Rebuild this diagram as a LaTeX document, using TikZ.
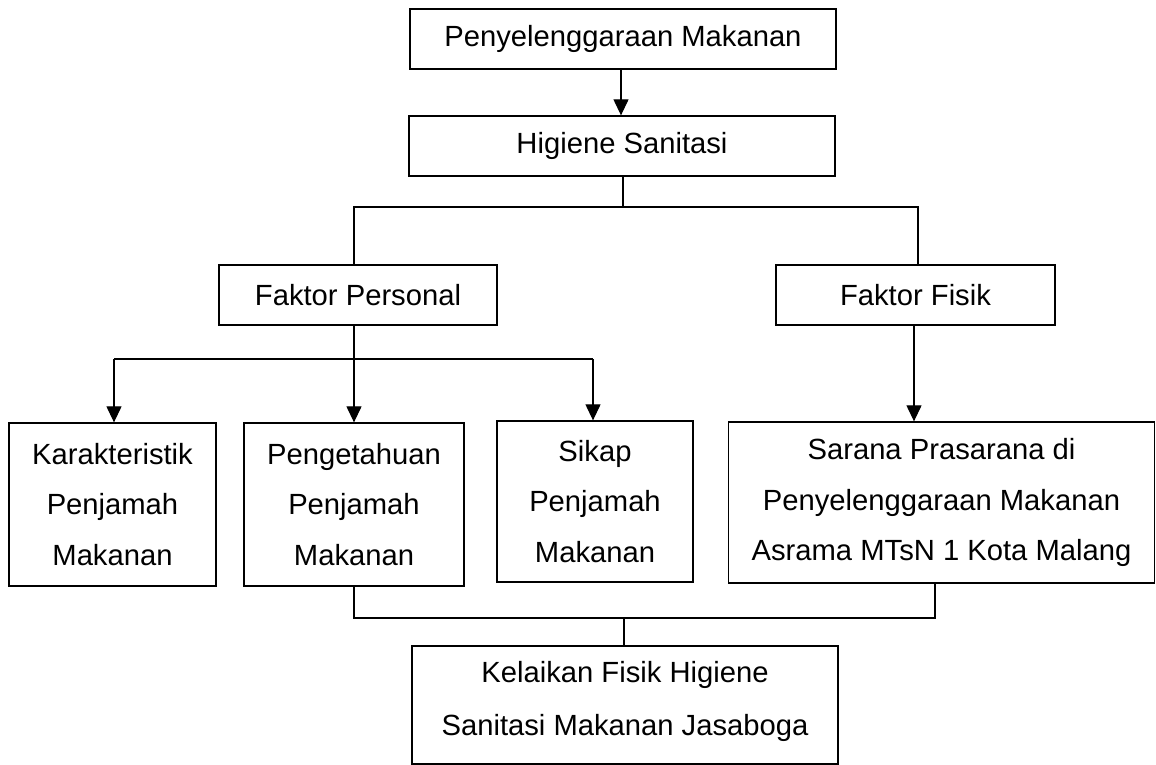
\documentclass[tikz,border=0pt]{standalone}
\usepackage{fontspec}
\setmainfont{Liberation Sans}
\usetikzlibrary{arrows.meta}
\begin{document}
\begin{tikzpicture}[x=1pt,y=-1pt,
  box/.style={draw, line width=1.3pt, inner sep=0pt, align=center,
    font=\fontsize{29.2}{50.5}\selectfont},
  txt/.style={inner sep=0pt, align=center, font=\fontsize{29.2}{53}\selectfont},
  ln/.style={line width=1.2pt},
  arr/.style={line width=1.2pt, -{Triangle[length=16pt,width=15pt]}}]
\useasboundingbox (0,0) rectangle (1156,765);
% boxes
\node[box, minimum width=426pt, minimum height=60pt] (top) at (623,39) {Penyelenggaraan Makanan};
\node[box, minimum width=426pt, minimum height=60pt] (hig) at (622,146) {Higiene Sanitasi};
\node[box, minimum width=278pt, minimum height=60pt] (fp) at (358,295) {Faktor Personal};
\node[box, minimum width=279pt, minimum height=60pt] (ff) at (915.5,295) {Faktor Fisik};
\node[box, minimum width=207pt, minimum height=163pt] (kar) at (112.5,504.5) {Karakteristik\\Penjamah\\Makanan};
\node[box, minimum width=220pt, minimum height=163pt] (pen) at (354,504.5) {Pengetahuan\\Penjamah\\Makanan};
\node[box, minimum width=196pt, minimum height=161pt] (sik) at (595,501.5) {Sikap\\Penjamah\\Makanan};
\node[box, minimum width=426pt, minimum height=161pt] (sar) at (941.5,502.5) {Sarana Prasarana di\\Penyelenggaraan Makanan\\Asrama MTsN 1 Kota Malang};
\node[box, minimum width=426pt, minimum height=118pt] (kel) at (625,705) {};
\node[txt] (kelt) at (625,701) {Kelaikan Fisik Higiene\\Sanitasi Makanan Jasaboga};
% junction coordinates
\coordinate (j0) at (621,0);
\coordinate (j1) at (623,207);
\coordinate (j1l) at (354,207);
\coordinate (j1r) at (918,207);
\coordinate (j2) at (354,359);
\coordinate (j2l) at (114,359);
\coordinate (j2r) at (593,359);
\coordinate (j3) at (914,0);
\coordinate (j4) at (624,618);
\coordinate (j4l) at (354,618);
\coordinate (j4r) at (935,618);
% connectors
\draw[arr] (j0 |- top.south) -- (j0 |- hig.north);
\draw[ln] (j1 |- hig.south) -- (j1);
\draw[ln] (j1l |- fp.north) -- (j1l) -- (j1r) -- (j1r |- ff.north);
\draw[ln] (j2 |- fp.south) -- (j2);
\draw[ln] (j2l) -- (j2r);
\draw[arr] (j2l) -- (j2l |- kar.north);
\draw[arr] (j2) -- (j2 |- pen.north);
\draw[arr] (j2r) -- (j2r |- sik.north);
\draw[arr] (j3 |- ff.south) -- (j3 |- sar.north);
\draw[ln] (j4l |- pen.south) -- (j4l) -- (j4r) -- (j4r |- sar.south);
\draw[ln] (j4) -- (j4 |- kel.north);
\end{tikzpicture}
\end{document}
